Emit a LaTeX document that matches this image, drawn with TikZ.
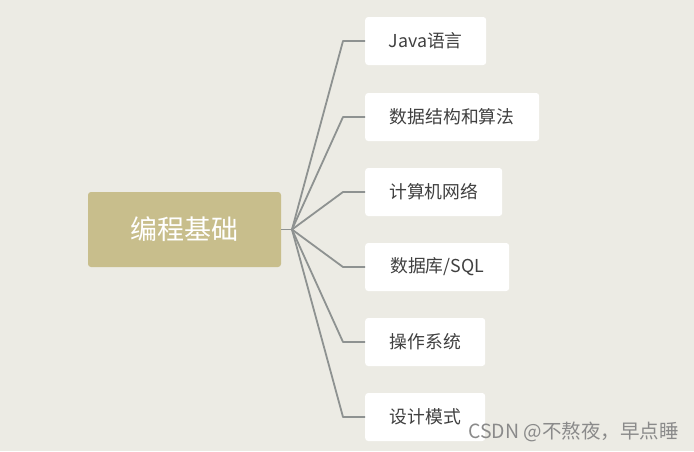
\documentclass[tikz,border=0pt]{standalone}
\usepackage{fontspec}
\usetikzlibrary{calc}
\setmainfont{Noto Sans CJK SC}
\newfontfamily\wmfont{Noto Sans CJK SC}
\definecolor{bgc}{HTML}{ECEBE4}
\definecolor{rootc}{HTML}{C8BE8C}
\definecolor{linec}{HTML}{8E9291}
\definecolor{txtc}{HTML}{404040}
\definecolor{wmc}{HTML}{8A8A8A}
\begin{document}
\begin{tikzpicture}[x=1pt,y=-1pt,
  rootbox/.style={fill=rootc,rounded corners=3pt,minimum width=193pt,minimum height=75pt,inner sep=0pt,text=white,font=\fontsize{27}{31}\selectfont},
  leafbox/.style={fill=white,rounded corners=3pt,minimum height=48pt,inner sep=0pt,text=txtc,font=\fontsize{17.8}{21}\selectfont,anchor=west},
  conn/.style={draw=linec,line width=1.8pt}]
\fill[bgc] (0,0) rectangle (694,451);
\useasboundingbox (0,0) rectangle (694,451);
\node[rootbox] (root) at (184.5,229.5) {编程基础};
\coordinate (hub) at (292,229.5);
\node[leafbox,minimum width=121pt] (l1) at (365,41) {Java语言};
\node[leafbox,minimum width=174pt] (l2) at (365,117) {数据结构和算法};
\node[leafbox,minimum width=137pt] (l3) at (365,192) {计算机网络};
\node[leafbox,minimum width=144pt] (l4) at (365,267) {数据库/SQL};
\node[leafbox,minimum width=120pt] (l5) at (365,342) {操作系统};
\node[leafbox,minimum width=120pt] (l6) at (365,417) {设计模式};
\draw[conn] (root.east) -- (hub);
\foreach \n in {l1,l2,l3,l4,l5,l6}{
  \draw[conn,line join=round] (hub) -- ($(\n.west)+(-22,0)$) -- (\n.west);
}
\node[anchor=east,text=wmc,font=\wmfont\fontsize{19.5}{23}\selectfont,inner sep=0pt] (wm) at (679,432) {CSDN @不熬夜，早点睡};
\end{tikzpicture}
\end{document}
